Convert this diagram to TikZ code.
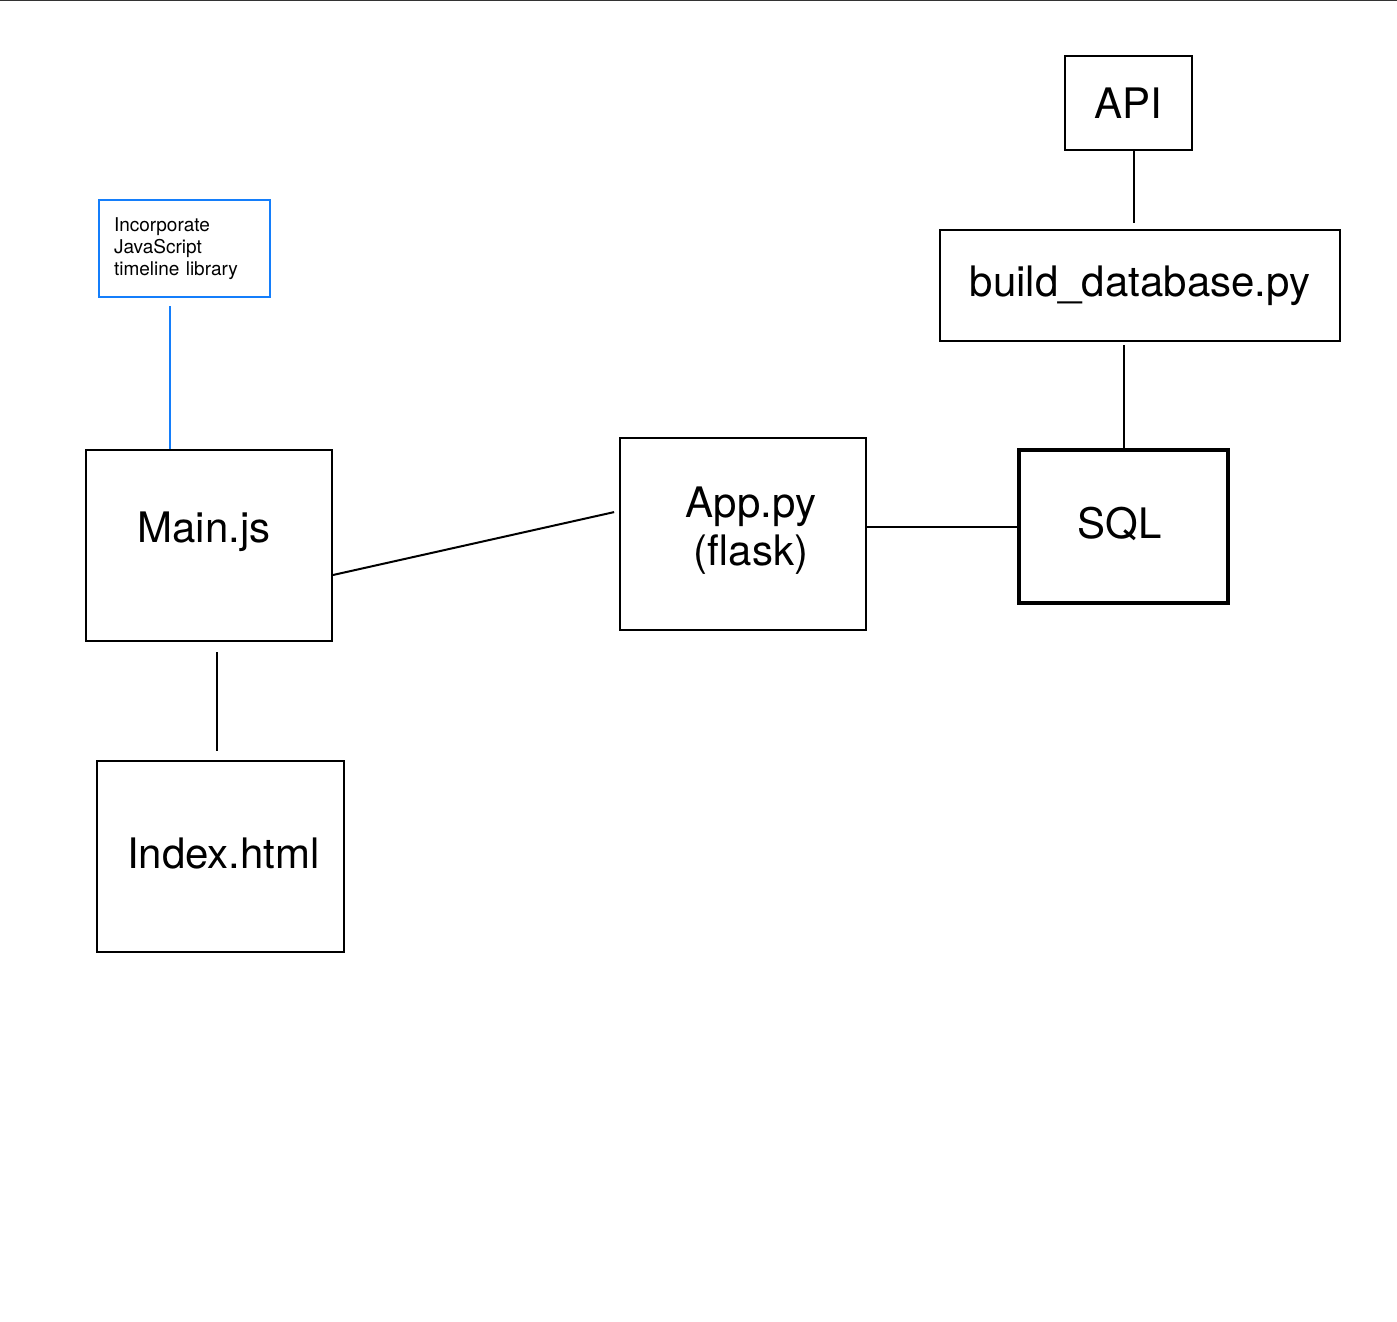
\documentclass[tikz,border=0pt]{standalone}
\usepackage{fontspec}
\setmainfont{TeX Gyre Heros}
\usetikzlibrary{positioning}
\definecolor{noteblue}{HTML}{147EFB}
\definecolor{framegray}{HTML}{333333}

\begin{document}
\begin{tikzpicture}[x=1pt, y=-1pt]

\tikzset{
  filebox/.style={draw=black, line width=2pt, inner sep=0pt,
    font=\fontsize{42}{48}\selectfont, align=center},
  filetext/.style={font=\fontsize{42}{48}\selectfont, inner sep=0pt, align=center},
  notebox/.style={draw=noteblue, line width=2pt, inner xsep=15pt, inner ysep=0pt,
    text width=141pt, align=left, font=\fontsize{19}{22}\selectfont},
  link/.style={black, line width=2pt},
  notelink/.style={noteblue, line width=2pt},
}

  % -- page frame -------------------------------------------
  \useasboundingbox (0,0) rectangle (1397,1322);
  \draw[framegray, line width=1.5pt] (0,0.5) -- (1397,0.5);

  % -- data side ---------------------------------------------
  \node[filebox, minimum width=127pt, minimum height=93pt] (api) at (1128.5,103) {API};
  \node[filebox, minimum width=400pt, minimum height=111pt] (build) at (1140,285.5) {build\_database.py};
  \node[filebox, line width=3.5pt, minimum width=209pt, minimum height=153pt,
    label={[name=sqltxt, filetext, xshift=-4pt, yshift=3pt]center:SQL}] (sql) at (1123.5,526.5) {};

  % -- server ------------------------------------------------
  \node[filebox, minimum width=246pt, minimum height=192pt,
    label={[name=apptxt, filetext, xshift=8pt, yshift=3pt]center:App.py\\(flask)}] (app) at (743,534) {};

  % -- front end ---------------------------------------------
  \node[filebox, minimum width=246pt, minimum height=191pt,
    label={[name=mainjs, filetext, xshift=-5pt, yshift=14pt]center:Main.js}] (main) at (209,545.5) {};
  \node[filebox, minimum width=247pt, minimum height=191pt,
    label={[name=indextxt, filetext, xshift=3pt, yshift=3pt]center:Index.html}] (index) at (220.5,856.5) {};
  \node[notebox, minimum height=97pt] (note) at (184.5,248.5)
    {Incorporate\\JavaScript\\timeline library\\[4pt]};

  % -- connectors --------------------------------------------
  \draw[link, shorten >=6pt] ([xshift=5.5pt]api.south) -- ([xshift=5.5pt]api.south |- build.north);
  \draw[link, shorten >=3pt] (sql.north) -- (sql.north |- build.south);
  \draw[link] (app.east |- sql.west) -- (sql.west);
  \draw[link, shorten >=5pt] ([yshift=-29.5pt]main.east) -- ([yshift=23pt]app.west);
  \draw[link, shorten <=10pt, shorten >=9pt] ([xshift=8pt]main.south) -- ([xshift=8pt]main.south |- index.north);
  \draw[notelink, shorten >=8pt] ([xshift=-39pt]main.north) -- ([xshift=-39pt]main.north |- note.south);

\end{tikzpicture}
\end{document}
